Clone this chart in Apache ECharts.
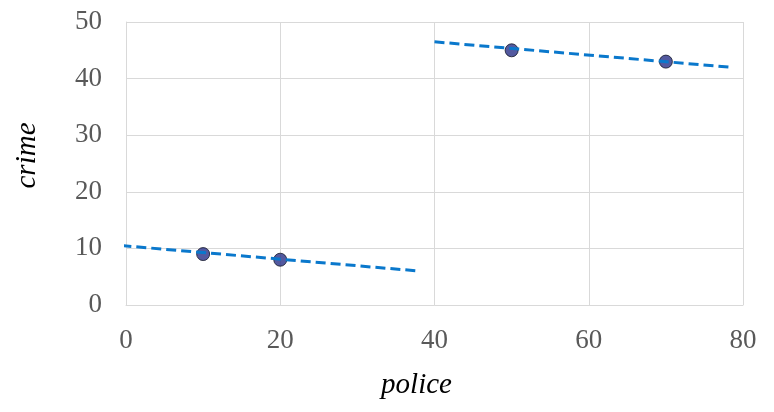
<!DOCTYPE html>
<html>
<head>
<meta charset="utf-8">
<script src="https://cdn.jsdelivr.net/npm/echarts@6/dist/echarts.min.js"></script>
<style>html,body{margin:0;padding:0;background:#fff}#c{width:774px;height:412px}</style>
</head>
<body>
<div id="c"></div>
<script>
var pointsX = [10, 20, 50, 70];
var pointsY = [9, 8, 45, 43];
var trend1X = [-0.6, 38];
var trend1Y = [10.5, 6.0];
var trend2X = [40, 78.4];
var trend2Y = [46.5, 42.0];
var xName = 'police';
var yName = 'crime';

function pairs(xs, ys){ return xs.map(function(x,i){ return [x, ys[i]]; }); }

var font = '"Liberation Serif", "DejaVu Serif", serif';
var chart = echarts.init(document.getElementById('c'));
chart.setOption({
  animation: false,
  grid: {left: 126, right: 31, top: 22, bottom: 107},
  xAxis: {
    type: 'value', min: 0, max: 80, interval: 20,
    name: xName, nameLocation: 'middle', nameGap: 66,
    nameTextStyle: {fontFamily: font, fontStyle: 'italic', fontSize: 29, color: '#000', padding: [0, 36, 0, 0]},
    axisLine: {show: true, lineStyle: {color: '#d9d9d9', width: 1}},
    axisTick: {show: false},
    axisLabel: {fontFamily: font, fontSize: 27, color: '#595959', margin: 22},
    splitLine: {show: true, lineStyle: {color: '#d9d9d9', width: 1}}
  },
  yAxis: {
    type: 'value', min: 0, max: 50, interval: 10,
    name: yName, nameLocation: 'middle', nameGap: 84,
    nameTextStyle: {fontFamily: font, fontStyle: 'italic', fontSize: 29, color: '#000', padding: [0, 0, 0, 16]},
    axisLine: {show: true, lineStyle: {color: '#d9d9d9', width: 1}},
    axisTick: {show: false},
    axisLabel: {fontFamily: font, fontSize: 27, color: '#595959', margin: 24, padding: [3, 0, 0, 0]},
    splitLine: {show: true, lineStyle: {color: '#d9d9d9', width: 1}}
  },
  series: [
    {type: 'scatter', data: pairs(pointsX, pointsY), symbolSize: 13,
     itemStyle: {color: '#283087', borderColor: '#141828', borderWidth: 1}, z: 2},
    {type: 'line', data: pairs(trend1X, trend1Y), showSymbol: false, symbol: 'none',
     lineStyle: {color: '#0a78cc', width: 3, type: [10, 5]}, z: 3},
    {type: 'line', data: pairs(trend2X, trend2Y), showSymbol: false, symbol: 'none',
     lineStyle: {color: '#0a78cc', width: 3, type: [10, 5]}, z: 3}
  ]
});
</script>
</body>
</html>
